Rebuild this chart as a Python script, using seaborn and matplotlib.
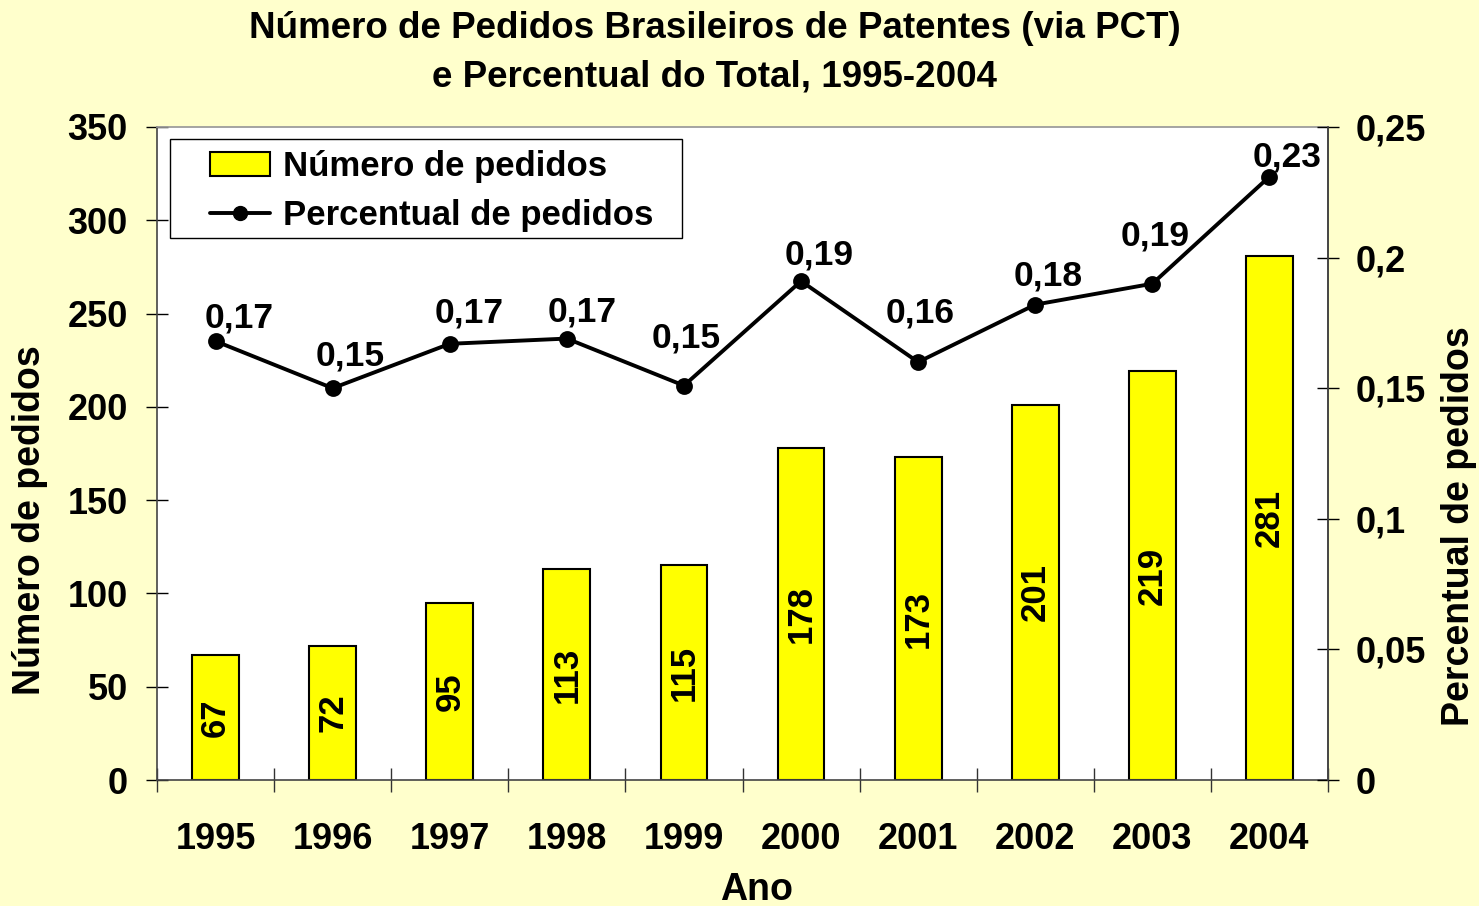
import numpy as np
import pandas as pd
import seaborn as sns
import matplotlib.pyplot as plt
from matplotlib.patches import Patch, Rectangle
from matplotlib.lines import Line2D
from matplotlib.ticker import FuncFormatter

# dados
anos = ['1995', '1996', '1997', '1998', '1999', '2000', '2001', '2002', '2003', '2004']
pedidos = [67, 72, 95, 113, 115, 178, 173, 201, 219, 281]
percentual = [0.168, 0.150, 0.167, 0.169, 0.151, 0.191, 0.160, 0.182, 0.190, 0.231]

# deslocamento (px) dos rótulos de percentual em relação ao ponto
desloc_rotulos = [(24, 23), (18, 32), (19, 31), (15, 27), (2, 48),
                  (18, 26), (2, 49), (13, 29), (3, 48), (18, 20)]

df = pd.DataFrame({'ano': anos, 'pedidos': pedidos, 'percentual': percentual})

sns.set_theme(style='white')
plt.rcParams['font.family'] = ['Liberation Sans', 'DejaVu Sans']
plt.rcParams['font.weight'] = 'bold'
for k in ['text.color', 'axes.labelcolor', 'xtick.color', 'ytick.color']:
    plt.rcParams[k] = 'black'

W, H = 1479, 906
fig = plt.figure(figsize=(W / 100, H / 100), dpi=100)
fig.patch.set_facecolor('#FFFFCC')

ax = fig.add_axes([157 / W, (H - 780) / H, 1171 / W, 653 / H])
ax.set_facecolor('white')

sns.barplot(data=df, x='ano', y='pedidos', color='#FFFF00', edgecolor='black',
            linewidth=1.5, width=0.4, saturation=1, ax=ax)
ax.bar_label(ax.containers[0], labels=[str(v) for v in pedidos], label_type='center',
             rotation=90, fontsize=25, fontweight='bold')

ax2 = ax.twinx()
sns.pointplot(data=df, x='ano', y='percentual', color='black', markers='o',
              markersize=10, linewidth=2.8, errorbar=None, ax=ax2)
for i, v in enumerate(percentual):
    ax2.annotate(f'{v:.2f}'.replace('.', ','), (i, v), xytext=desloc_rotulos[i],
                 textcoords='offset pixels', ha='center', va='center',
                 fontsize=25.5, fontweight='bold')

ax.set_xlim(-0.5, len(anos) - 0.5)
ax.set_ylim(0, 350)
ax.set_yticks(np.arange(0, 351, 50))
ax2.set_ylim(0, 0.25)
ax2.set_yticks(np.arange(0, 0.251, 0.05))
ax2.yaxis.set_major_formatter(FuncFormatter(lambda v, p: ('%g' % round(v, 2)).replace('.', ',')))

ax.set_xlabel('')
ax.set_ylabel('')
ax2.set_ylabel('')

# ticks
ax.tick_params(axis='y', which='major', left=True, direction='inout', length=16,
               width=1, color='black', labelsize=26, pad=13)
ax.tick_params(axis='x', which='major', bottom=True, length=0, labelsize=26, pad=30)
ax.set_xticks(np.arange(-0.5, len(anos), 1), minor=True)
ax.tick_params(axis='x', which='minor', bottom=True, direction='inout', length=17,
               width=1, color='#333333')
ax2.tick_params(axis='y', which='major', right=True, left=False, direction='inout',
                length=16, width=1, color='black', labelsize=26, pad=12)

for s in ['left', 'bottom', 'right']:
    ax.spines[s].set_color('#444444')
    ax.spines[s].set_linewidth(1.2)
ax.spines['top'].set_color('#999999')
for s in ['left', 'bottom', 'top']:
    ax2.spines[s].set_visible(False)
ax2.spines['right'].set_color('#444444')
ax2.spines['right'].set_linewidth(1.2)

# caixa da legenda
ax2.add_patch(Rectangle((170 / W, (H - 238) / H), 512 / W, 99 / H, transform=fig.transFigure,
                        facecolor='white', edgecolor='black', linewidth=1, zorder=4,
                        clip_on=False))
handles = [Patch(facecolor='#FFFF00', edgecolor='black', linewidth=1.5, label='Número de pedidos'),
           Line2D([], [], color='black', lw=2.8, marker='o', markersize=10, label='Percentual de pedidos')]
leg = ax2.legend(handles=handles, loc='center left',
                 bbox_to_anchor=(210 / W, (H - 191) / H), bbox_transform=fig.transFigure,
                 borderaxespad=0, frameon=False, prop={'weight': 'bold', 'size': 25},
                 handlelength=1.73, handletextpad=0.37, borderpad=0, labelspacing=0.47)
leg.set_zorder(5)

fig.text(715 / W, 1 - 29 / H, 'Número de Pedidos Brasileiros de Patentes (via PCT)',
         ha='center', va='center', fontsize=26.5, fontweight='bold')
fig.text(715 / W, 1 - 77 / H, 'e Percentual do Total, 1995-2004',
         ha='center', va='center', fontsize=26.5, fontweight='bold')
fig.text(30 / W, 1 - 520 / H, 'Número de pedidos', rotation=90,
         ha='center', va='center', fontsize=27, fontweight='bold')
fig.text(1459 / W, 1 - 526 / H, 'Percentual de pedidos', rotation=90,
         ha='center', va='center', fontsize=27, fontweight='bold')
fig.text(757 / W, 1 - 890 / H, 'Ano', ha='center', va='center', fontsize=27, fontweight='bold')

fig.savefig('out.png', dpi=100, facecolor=fig.get_facecolor())
